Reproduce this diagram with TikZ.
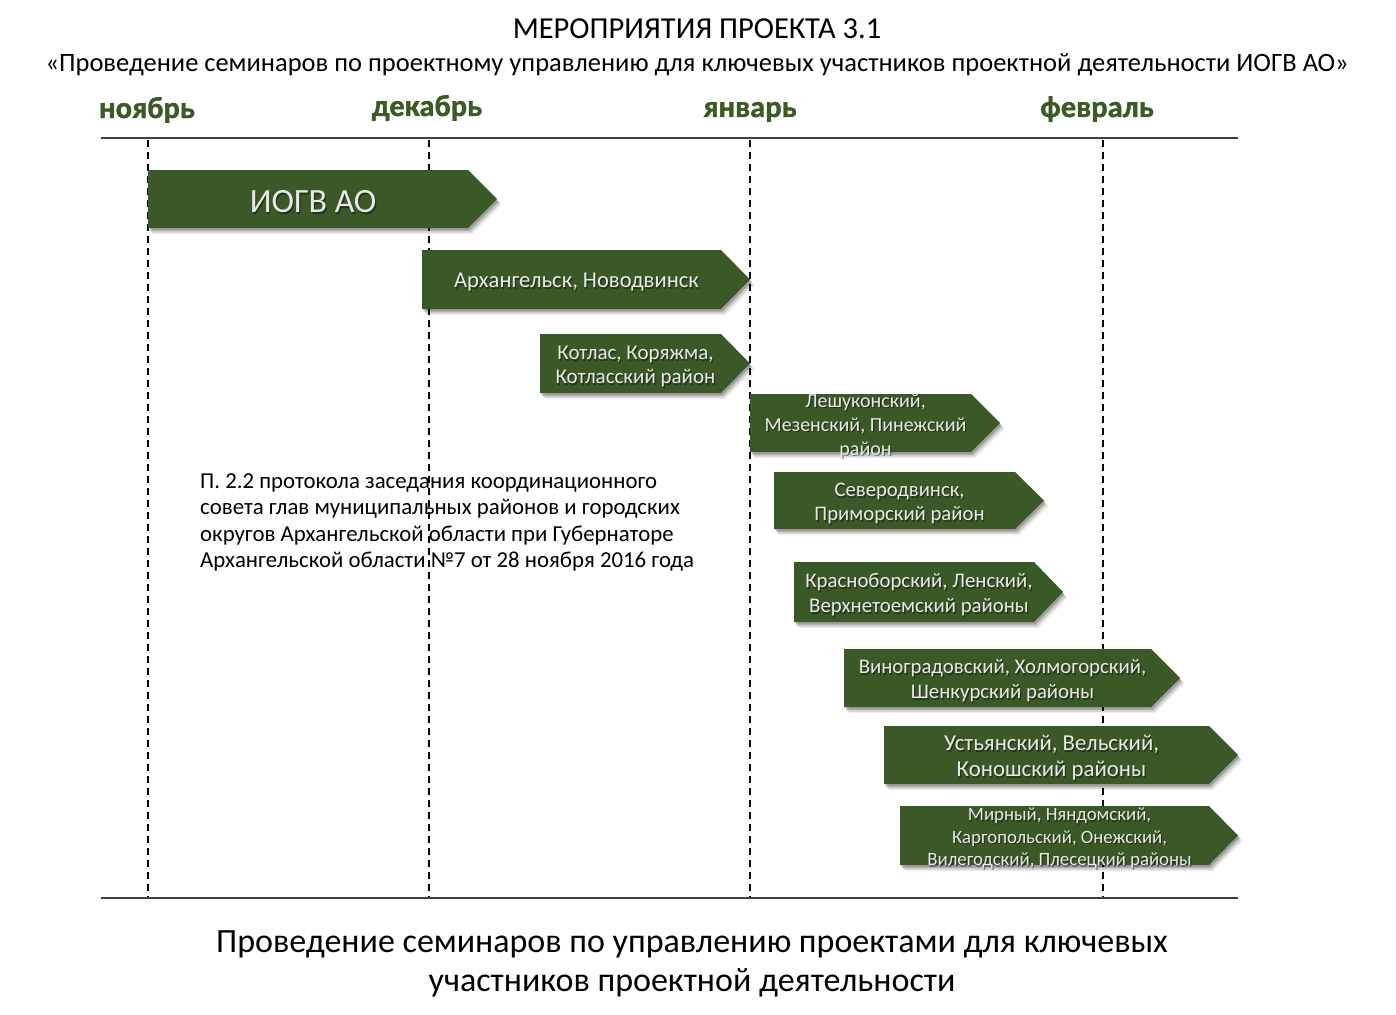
\documentclass[tikz,border=0pt]{standalone}
\usepackage{fontspec}
\setmainfont{Carlito}
\newfontfamily\monthfont[FakeBold=1.2]{Carlito Bold}
\usetikzlibrary{shadows}
\definecolor{ggreen}{RGB}{59,88,39}
\definecolor{mgreen}{RGB}{58,92,36}
\definecolor{ltxt}{RGB}{232,232,232}
\definecolor{rule}{RGB}{64,64,64}
\tikzset{
  month/.style={text=mgreen, font=\monthfont\fontsize{30.5}{34}\selectfont, anchor=base},
  dashv/.style={black, dashed, dash pattern=on 7pt off 5pt, line width=1.3pt},
  hrule/.style={rule, line width=1.8pt},
  gbody/.style={fill=ggreen,
    drop shadow={shadow xshift=1.5pt, shadow yshift=-2.5pt, fill=black, opacity=0.22},
    drop shadow={shadow xshift=3pt, shadow yshift=-4.5pt, fill=black, opacity=0.14},
    drop shadow={shadow xshift=4.5pt, shadow yshift=-6pt, fill=black, opacity=0.07}},
  glabel/.style={text=ltxt, align=center, inner sep=0pt},
  gshadow/.style={text=black, opacity=0.4, align=center, inner sep=0pt},
}
% #1 name, #2 x1, #3 x2, #4 ytop, #5 ybot, #6 font size, #7 baselineskip, #8 text
\newcommand\garrow[8]{%
  \pgfmathsetmacro\gtip{#3-29}%
  \pgfmathsetmacro\gmid{(#4+#5)/2}%
  \pgfmathsetmacro\gcx{(#2+\gtip)/2+5}%
  \pgfmathsetmacro\gty{\gmid+3}%
  \path[gbody] (#2,#4) -- (\gtip,#4) -- (#3,\gmid) -- (\gtip,#5) -- (#2,#5) -- cycle;
  \node[gshadow, font=\fontsize{#6}{#7}\selectfont] (#1s) at (\gcx+1.2,\gty+1.5) {#8};
  \node[glabel, font=\fontsize{#6}{#7}\selectfont] (#1) at (\gcx,\gty) {#8};
}
\begin{document}
\begin{tikzpicture}[x=1pt,y=-1pt]
\useasboundingbox (0,0) rectangle (1396,1014);
% titles
\node[font=\fontsize{30.5}{34}\selectfont] (title) at (697,29) {МЕРОПРИЯТИЯ ПРОЕКТА 3.1};
\node[font=\fontsize{26.5}{30}\selectfont] (sub) at (697,65) {«Проведение семинаров по проектному управлению для ключевых участников проектной деятельности ИОГВ АО»};
% months
\node[month] (m1) at (147,118) {ноябрь};
\node[month] (m2) at (427,116) {декабрь};
\node[month] (m3) at (750,117) {январь};
\node[month] (m4) at (1097,117) {февраль};
% axis lines
\coordinate (tl) at (101,138); \coordinate (tr) at (1238,138);
\coordinate (bl) at (101,898); \coordinate (br) at (1238,898);
\draw[hrule] (tl) -- (tr);
\draw[hrule] (bl) -- (br);
\foreach \x/\n in {148/a,429/b,750/c,1103/d}{
  \coordinate (d\n t) at (\x,140);
  \coordinate (d\n b) at (\x,897);
  \draw[dashv] (d\n t) -- (d\n b);
}
% arrows
\garrow{g1}{148}{497}{170}{228}{34}{38}{ИОГВ АО}
\garrow{g2}{422}{750}{250}{309}{22.6}{26}{Архангельск, Новодвинск}
\garrow{g3}{540}{750}{334}{393}{21}{24}{Котлас, Коряжма,\\Котласский район}
\garrow{g4}{750}{1000}{394}{452}{20}{24}{Лешуконский,\\Мезенский, Пинежский\\район}
\garrow{g5}{774}{1044}{472}{529}{20.7}{24}{Северодвинск,\\Приморский район}
\garrow{g6}{794}{1063}{562}{622}{20.8}{25}{Красноборский, Ленский,\\Верхнетоемский районы}
\garrow{g7}{844}{1180}{649}{707}{20.8}{25}{Виноградовский, Холмогорский,\\Шенкурский районы}
\garrow{g8}{884}{1238}{726}{784}{22.8}{26}{Устьянский, Вельский,\\Коношский районы}
\garrow{g9}{900}{1238}{806}{865}{18.8}{22.5}{Мирный, Няндомский,\\Каргопольский, Онежский,\\Вилегодский, Плесецкий районы}
% note
\node[anchor=north west, align=left, inner sep=0pt, font=\fontsize{22.8}{26.5}\selectfont] (note) at (200,473) {П. 2.2 протокола заседания координационного\\совета глав муниципальных районов и городских\\округов Архангельской области при Губернаторе\\Архангельской области №7 от 28 ноября 2016 года};
% bottom
\node[align=center, font=\fontsize{34}{39}\selectfont] (bottom) at (692,964) {Проведение семинаров по управлению проектами для ключевых\\участников проектной деятельности};
\end{tikzpicture}
\end{document}
